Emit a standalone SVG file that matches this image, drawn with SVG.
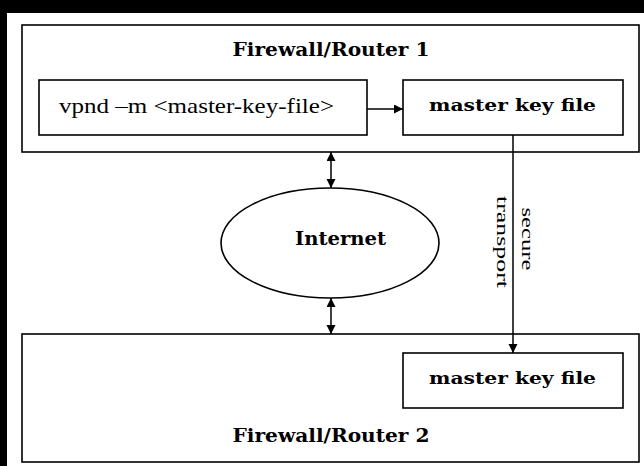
<svg xmlns="http://www.w3.org/2000/svg" width="644" height="466" viewBox="0 0 644 466">
  <style>
    .box { fill: #fff; stroke: #000; stroke-width: 1.6; }
    .conn { fill: none; stroke: #000; stroke-width: 1.5; }
    .title { font-family: "DejaVu Serif", "Liberation Serif", serif; font-weight: bold; font-size: 18px; fill: #000; }
    .bold { font-family: "DejaVu Serif", "Liberation Serif", serif; font-weight: bold; font-size: 17px; fill: #000; }
    .plain { font-family: "Liberation Serif", "DejaVu Serif", serif; font-size: 22px; fill: #000; }
    .mono { font-family: "Liberation Serif", "DejaVu Serif", serif; font-size: 17px; fill: #000; }
  </style>
  <defs>
    <marker id="arrow" markerUnits="userSpaceOnUse" markerWidth="10" markerHeight="10" refX="9" refY="4.5" orient="auto-start-reverse">
      <path d="M0,0 L9,4.5 L0,9 Z" fill="#000"/>
    </marker>
  </defs>

  <rect x="0" y="0" width="644" height="466" fill="#000"/>
  <rect x="7" y="13" width="637" height="453" fill="#fff"/>

  <g id="router1">
    <rect class="box" x="22" y="25" width="617" height="127"/>
    <text class="title" x="331" y="56" text-anchor="middle" textLength="197" lengthAdjust="spacingAndGlyphs">Firewall/Router 1</text>
  </g>
  <g id="vpnd">
    <rect class="box" x="39" y="80" width="328" height="55"/>
    <text class="plain" x="196.5" y="113" text-anchor="middle" textLength="275" lengthAdjust="spacingAndGlyphs">vpnd –m &lt;master-key-file&gt;</text>
  </g>
  <g id="keyfile1">
    <rect class="box" x="403" y="80" width="220" height="55"/>
    <text class="bold" x="512.5" y="111" text-anchor="middle" textLength="167" lengthAdjust="spacingAndGlyphs">master key file</text>
  </g>
  <g id="internet">
    <ellipse class="box" cx="330" cy="243" rx="109" ry="55"/>
    <text class="title" x="340.5" y="245" text-anchor="middle" textLength="91" lengthAdjust="spacingAndGlyphs">Internet</text>
  </g>
  <g id="router2">
    <rect class="box" x="22" y="334" width="617" height="128"/>
    <text class="title" x="331" y="442" text-anchor="middle" textLength="197" lengthAdjust="spacingAndGlyphs">Firewall/Router 2</text>
  </g>
  <g id="keyfile2">
    <rect class="box" x="403" y="353" width="220" height="55"/>
    <text class="bold" x="512.5" y="384" text-anchor="middle" textLength="167" lengthAdjust="spacingAndGlyphs">master key file</text>
  </g>

  <g id="connectors">
    <path class="conn" d="M367,109 L403,109" marker-end="url(#arrow)"/>
    <path class="conn" d="M331,152 L331,188" marker-start="url(#arrow)" marker-end="url(#arrow)"/>
    <path class="conn" d="M331,298 L331,334" marker-start="url(#arrow)" marker-end="url(#arrow)"/>
    <path class="conn" d="M513,135 L513,353" marker-end="url(#arrow)"/>
    <text class="mono" x="522" y="239" text-anchor="middle" transform="rotate(90 522 239)" textLength="63" lengthAdjust="spacingAndGlyphs">secure</text>
    <text class="mono" x="497" y="242" text-anchor="middle" transform="rotate(90 497 242)" textLength="92" lengthAdjust="spacingAndGlyphs">transport</text>
  </g>
</svg>
